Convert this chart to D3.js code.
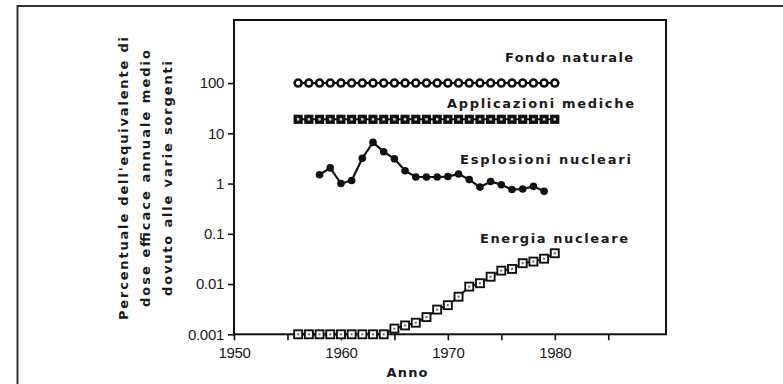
<!DOCTYPE html>
<html>
<head>
<meta charset="utf-8">
<script src="https://cdn.jsdelivr.net/npm/d3@7"></script>
<style>
  html, body { margin: 0; padding: 0; background: #fff; }
  svg { display: block; }
</style>
</head>
<body>
<svg id="chart" width="783" height="384"></svg>
<script>
// ---------------- DATA ----------------
const fondoYears = [1956,1957,1958,1959,1960,1961,1962,1963,1964,1965,1966,1967,1968,1969,1970,1971,1972,1973,1974,1975,1976,1977,1978,1979,1980];
const fondoValues = [100,100,100,100,100,100,100,100,100,100,100,100,100,100,100,100,100,100,100,100,100,100,100,100,100];

const medicheYears = [1956,1957,1958,1959,1960,1961,1962,1963,1964,1965,1966,1967,1968,1969,1970,1971,1972,1973,1974,1975,1976,1977,1978,1979,1980];
const medicheValues = [19,19,19,19,19,19,19,19,19,19,19,19,19,19,19,19,19,19,19,19,19,19,19,19,19];

const esplosioniYears = [1958,1959,1960,1961,1962,1963,1964,1965,1966,1967,1968,1969,1970,1971,1972,1973,1974,1975,1976,1977,1978,1979];
const esplosioniValues = [1.5,2.05,1.0,1.15,3.2,6.6,4.3,3.1,1.8,1.35,1.35,1.35,1.38,1.55,1.2,0.85,1.1,0.95,0.76,0.78,0.88,0.7];

const energiaYears = [1956,1957,1958,1959,1960,1961,1962,1963,1964,1965,1966,1967,1968,1969,1970,1971,1972,1973,1974,1975,1976,1977,1978,1979,1980];
const energiaValues = [0.001,0.001,0.001,0.001,0.001,0.001,0.001,0.001,0.001,0.0013,0.0015,0.0017,0.0022,0.0031,0.0038,0.0056,0.0089,0.0104,0.014,0.0185,0.020,0.026,0.028,0.032,0.041];

const xTickLabels = [1950, 1960, 1970, 1980];
const xMinorTicks = [1955, 1965, 1975, 1985];
const yTickValues = [100, 10, 1, 0.1, 0.01, 0.001];
const yTickLabels = ["100", "10", "1", "0.1", "0.01", "0.001"];

const seriesLabels = ["Fondo naturale", "Applicazioni mediche", "Esplosioni nucleari", "Energia nucleare"];
const yTitleLines = ["Percentuale dell'equivalente di", "dose efficace annuale medio", "dovuto alle varie sorgenti"];
const xTitle = "Anno";

// ---------------- LAYOUT ----------------
const svg = d3.select("#chart");
const plotL = 234, plotR = 666, plotT = 20, plotB = 334.3;

const x = d3.scaleLinear().domain([1950, 1990.4]).range([plotL, plotR]);
const y = d3.scaleLog().domain([0.001, 1800]).range([plotB, plotT]);

const ink = "#111";
const tickFont = "'Liberation Sans', Arial, sans-serif";
const boldFont = "'DejaVu Sans', sans-serif";

// outer frame (top and left)
svg.append("path")
  .attr("d", "M17.5,384 L17.5,6 L783,6")
  .attr("fill", "none").attr("stroke", "#333").attr("stroke-width", 2);

// plot frame
svg.append("rect")
  .attr("x", plotL).attr("y", plotT)
  .attr("width", plotR - plotL).attr("height", plotB - plotT)
  .attr("fill", "none").attr("stroke", ink).attr("stroke-width", 2);

// y axis
const yAxis = d3.axisLeft(y).tickValues(yTickValues)
  .tickFormat((d, i) => yTickLabels[i]).tickSize(6).tickPadding(4);
const gy = svg.append("g").attr("transform", `translate(${plotL},0)`).call(yAxis);
gy.select(".domain").remove();
gy.selectAll("line").attr("stroke", ink).attr("stroke-width", 1.6);
gy.selectAll("text").attr("font-family", tickFont).attr("font-size", 15)
  .attr("fill", "#1a1a1a").attr("letter-spacing", -0.3);

// x axis
const xAxis = d3.axisBottom(x).tickValues(xTickLabels)
  .tickFormat(d3.format("d")).tickSize(6).tickPadding(7);
const gx = svg.append("g").attr("transform", `translate(0,${plotB})`).call(xAxis);
gx.select(".domain").remove();
gx.selectAll("line").attr("stroke", ink).attr("stroke-width", 1.6);
gx.selectAll("text").attr("font-family", tickFont).attr("font-size", 15)
  .attr("fill", "#1a1a1a").attr("letter-spacing", -0.3);

const xAxisMinor = d3.axisBottom(x).tickValues(xMinorTicks).tickSize(6).tickFormat("");
const gxm = svg.append("g").attr("transform", `translate(0,${plotB})`).call(xAxisMinor);
gxm.select(".domain").remove();
gxm.selectAll("line").attr("stroke", ink).attr("stroke-width", 1.6);

// ---------------- SERIES ----------------
function pts(years, values) { return years.map((yr, i) => ({ yr, v: values[i] })); }
const line = d3.line().x(d => x(d.yr)).y(d => y(d.v));

// Fondo naturale
const fondo = pts(fondoYears, fondoValues);
svg.append("path").datum(fondo).attr("d", line)
  .attr("fill", "none").attr("stroke", ink).attr("stroke-width", 2);
svg.selectAll(".fondo").data(fondo).enter().append("circle")
  .attr("cx", d => x(d.yr)).attr("cy", d => y(d.v)).attr("r", 3.5)
  .attr("fill", "#fff").attr("stroke", ink).attr("stroke-width", 2.6);

// Applicazioni mediche
const mediche = pts(medicheYears, medicheValues);
svg.append("path").datum(mediche).attr("d", line)
  .attr("fill", "none").attr("stroke", ink).attr("stroke-width", 2);
svg.selectAll(".med").data(mediche).enter().append("rect")
  .attr("x", d => x(d.yr) - 4.6).attr("y", d => y(d.v) - 4.6)
  .attr("width", 9.2).attr("height", 9.2).attr("fill", ink);
svg.selectAll(".medc").data(mediche).enter().append("rect")
  .attr("x", d => x(d.yr) - 1.2).attr("y", d => y(d.v) - 1.2)
  .attr("width", 2.4).attr("height", 2.4).attr("fill", "#ddd");

// Esplosioni nucleari
const espl = pts(esplosioniYears, esplosioniValues);
svg.append("path").datum(espl).attr("d", line)
  .attr("fill", "none").attr("stroke", ink).attr("stroke-width", 2.2);
svg.selectAll(".espl").data(espl).enter().append("circle")
  .attr("cx", d => x(d.yr)).attr("cy", d => y(d.v)).attr("r", 3.8)
  .attr("fill", ink);

// Energia nucleare
const energia = pts(energiaYears, energiaValues);
svg.append("path").datum(energia).attr("d", line)
  .attr("fill", "none").attr("stroke", ink).attr("stroke-width", 2);
svg.selectAll(".en").data(energia).enter().append("rect")
  .attr("x", d => x(d.yr) - 4).attr("y", d => y(d.v) - 4)
  .attr("width", 8).attr("height", 8)
  .attr("fill", "#fff").attr("stroke", ink).attr("stroke-width", 1.9);
svg.selectAll(".enc").data(energia).enter().append("rect")
  .attr("x", d => x(d.yr) - 1).attr("y", d => y(d.v) - 1)
  .attr("width", 2).attr("height", 2).attr("fill", "#666");

// ---------------- LABELS ----------------
const labelSpecs = [
  { text: seriesLabels[0], xr: 633, yb: 62, len: 128 },
  { text: seriesLabels[1], xr: 634, yb: 108, len: 187 },
  { text: seriesLabels[2], xr: 631, yb: 164, len: 171 },
  { text: seriesLabels[3], xr: 628, yb: 242.5, len: 148 }
];
svg.selectAll(".slab").data(labelSpecs).enter().append("text")
  .attr("x", d => d.xr - d.len).attr("y", d => d.yb)
  .attr("textLength", d => d.len).attr("lengthAdjust", "spacing")
  .attr("font-family", boldFont).attr("font-weight", "bold").attr("font-size", 13)
  .attr("fill", "#1a1a1a")
  .text(d => d.text);

// y title (three rotated lines)
const yTitleSpecs = [
  { text: yTitleLines[0], bx: 127.5, len: 283 },
  { text: yTitleLines[1], bx: 150, len: 257 },
  { text: yTitleLines[2], bx: 172, len: 235 }
];
svg.selectAll(".ytl").data(yTitleSpecs).enter().append("text")
  .attr("transform", d => `translate(${d.bx},178.5) rotate(-90)`)
  .attr("x", d => -d.len / 2).attr("y", 0)
  .attr("textLength", d => d.len).attr("lengthAdjust", "spacing")
  .attr("font-family", boldFont).attr("font-weight", "bold").attr("font-size", 13)
  .attr("fill", "#1a1a1a")
  .text(d => d.text);

// x title
svg.append("text")
  .attr("x", 407).attr("y", 376.5).attr("text-anchor", "middle")
  .attr("font-family", boldFont).attr("font-weight", "bold").attr("font-size", 13)
  .attr("textLength", 41).attr("lengthAdjust", "spacing")
  .attr("fill", "#1a1a1a")
  .text(xTitle);
</script>
</body>
</html>
